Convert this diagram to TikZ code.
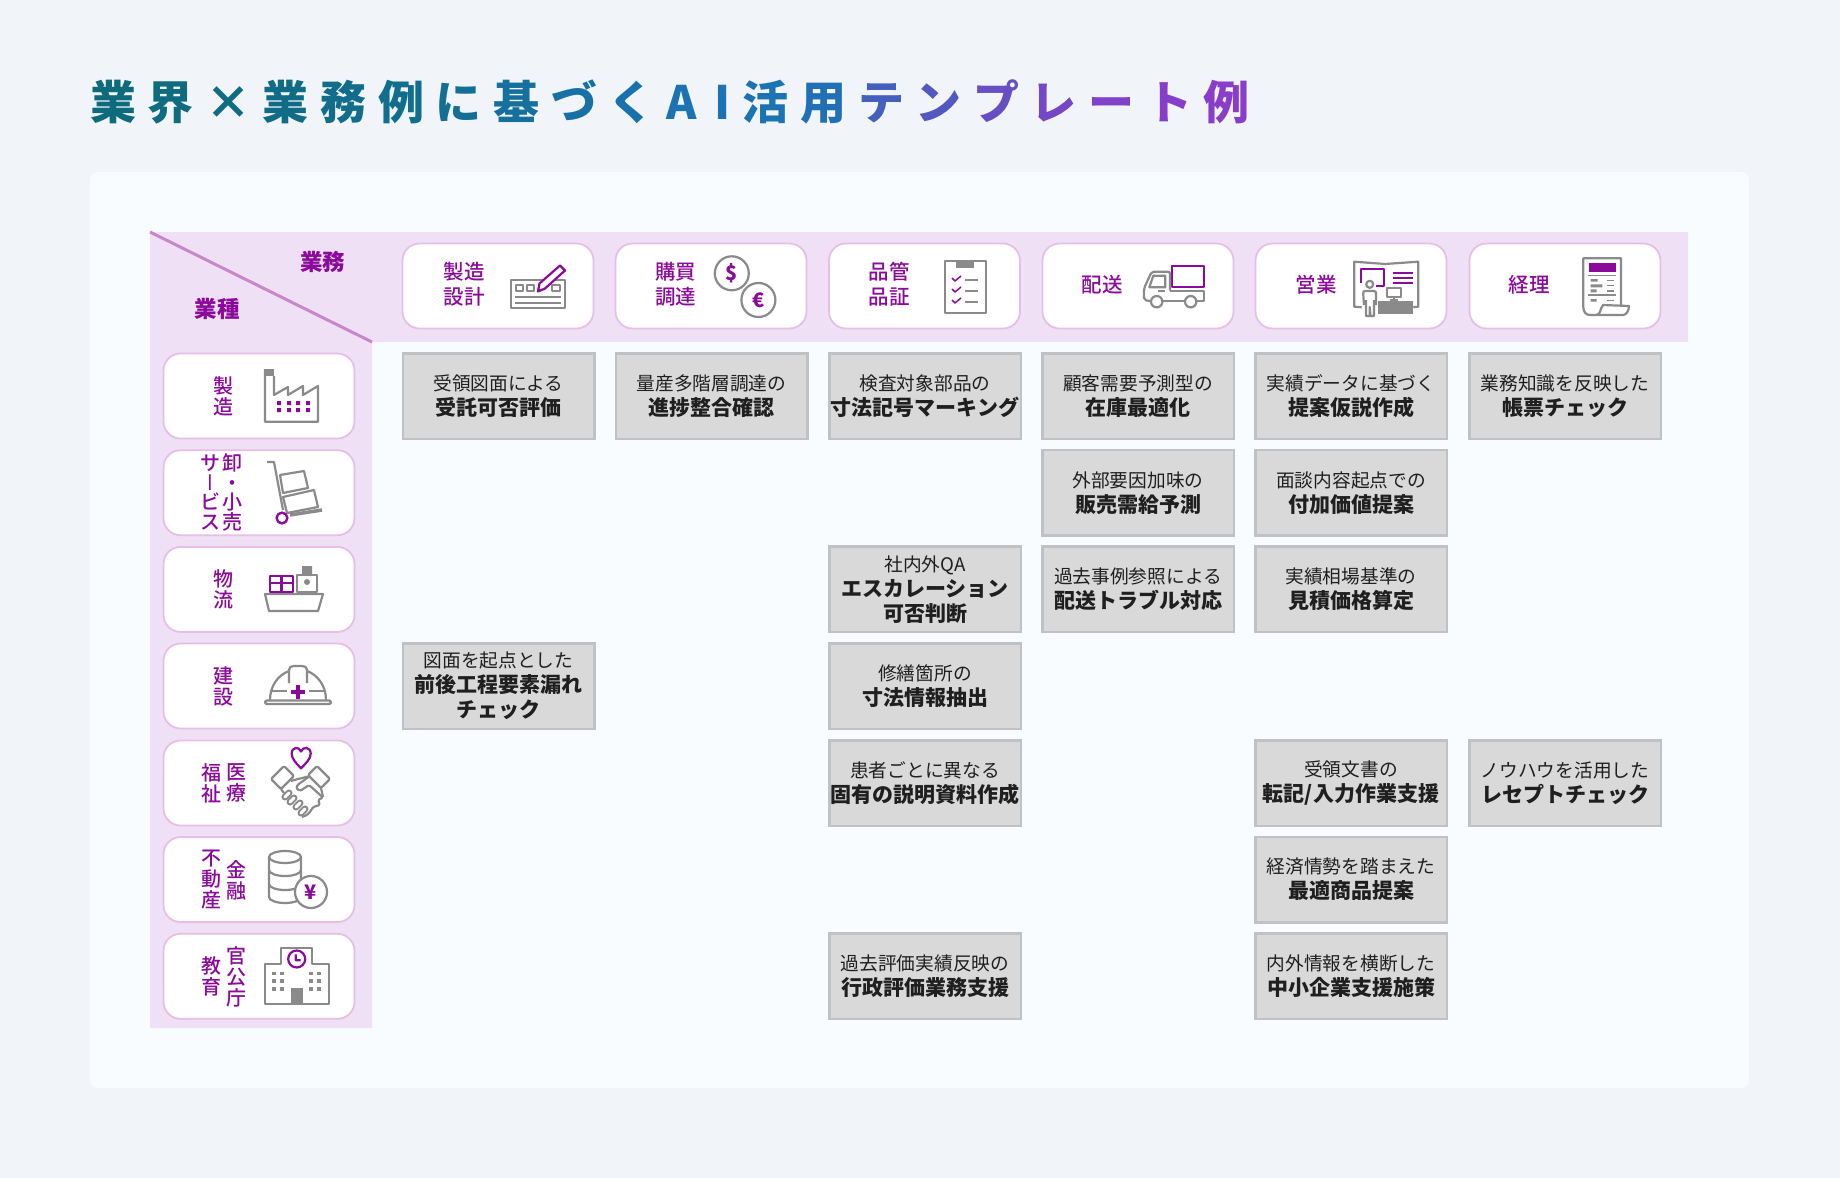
\documentclass[tikz,border=0pt]{standalone}
\usepackage{fontspec}
\setmainfont{Noto Sans CJK JP}
\newfontfamily\cjkvert[RawFeature=+vert]{Noto Sans CJK JP}
\newfontfamily\cjkmed{Noto Sans CJK JP Medium}
\definecolor{pagebg}{HTML}{F1F5FA}
\definecolor{panelbg}{HTML}{F8FCFF}
\definecolor{bandbg}{HTML}{EFE0F6}
\definecolor{diagline}{HTML}{C688C9}
\definecolor{boxedge}{HTML}{E6BEE6}
\definecolor{gyopurple}{HTML}{8B0A9B}
\definecolor{cellfill}{HTML}{D9D9D9}
\definecolor{celledge}{HTML}{BEC2C5}
\definecolor{icongray}{HTML}{8A8A8A}
\definecolor{tteal}{HTML}{0E6B7C}
\definecolor{tblue}{HTML}{1B73B4}
\definecolor{tpurple}{HTML}{8A3CCB}
\newcommand{\tga}[2]{\textcolor{tblue!#1!tteal}{#2}\kern11.6pt}
\newcommand{\tgb}[2]{\textcolor{tpurple!#1!tblue}{#2}\kern11.6pt}
\newcommand{\bt}[1]{{\bfseries\fontsize{21}{25}\selectfont #1}}
\tikzset{
  hdrbox/.style={draw=boxedge, fill=white, line width=1.8pt, rounded corners=17pt, minimum width=191pt, minimum height=85pt, inner sep=0pt, outer sep=0pt},
  sidebox/.style={hdrbox},
  hdrlabel/.style={text=gyopurple, inner sep=0pt, align=center, font=\cjkmed\fontsize{20.5}{25}\selectfont},
  sidelabel/.style={text=gyopurple, inner sep=0pt, align=center, font=\cjkmed\fontsize{20}{21}\selectfont},
  cornerlabel/.style={text=gyopurple, inner sep=0pt, font=\bfseries\fontsize{22.5}{25}\selectfont},
  cellbox/.style={draw=celledge, fill=cellfill, line width=2.5pt, minimum width=191.5pt, minimum height=85.5pt, inner sep=0pt, outer sep=0pt, align=center, text=black!88, font=\fontsize{18.7}{25}\selectfont},
  iconline/.style={draw=icongray, line width=2.2pt, line join=round},
  iconpurple/.style={draw=gyopurple, line width=2.2pt, line join=round},
}
\begin{document}
\begin{tikzpicture}[x=1pt,y=-1pt]
\useasboundingbox (0,0) rectangle (1840,1178);
\fill[pagebg] (0,0) rectangle (1840,1178);
\fill[panelbg, rounded corners=8pt] (90,172) rectangle (1749,1088);
\node[inner sep=0pt, anchor=west, font=\bfseries\fontsize{46}{50}\selectfont] (title) at (90,102) {\tga{0}{業}\tga{6}{界}\tga{12}{×}\tga{18}{業}\tga{24}{務}\tga{32}{例}\tga{45}{に}\tga{60}{基}\tga{72}{づ}\tga{85}{く}\tga{100}{A}\kern6pt\tga{100}{I}\kern1pt\tgb{0}{活}\tgb{5}{用}\tgb{35}{テ}\tgb{50}{ン}\tgb{68}{プ}\tgb{80}{レ}\tgb{90}{ー}\tgb{96}{ト}\tgb{100}{例}};
% band
\fill[bandbg] (150,232) -- (1688,232) -- (1688,342) -- (372,342) -- (372,1028) -- (150,1028) -- cycle;
\draw[diagline, line width=3pt] (150,232) -- (372,342);
\node[cornerlabel] (gyomu) at (322.5,261.5) {業務};
\node[cornerlabel] (gyoshu) at (217,309) {業種};
% header row
\node[hdrbox] (h1) at (498,286) {};
\node[hdrbox] (h2) at (711,286) {};
\node[hdrbox] (h3) at (924.5,286) {};
\node[hdrbox] (h4) at (1138,286) {};
\node[hdrbox] (h5) at (1351,286) {};
\node[hdrbox] (h6) at (1565,286) {};
\node[hdrlabel] (h1t) at (464,284.5) {製造\\設計};
\node[hdrlabel] (h2t) at (675.5,284.5) {購買\\調達};
\node[hdrlabel] (h3t) at (889,284.5) {品管\\品証};
\node[hdrlabel] (h4t) at (1102,284.5) {配送};
\node[hdrlabel] (h5t) at (1316,284.5) {営業};
\node[hdrlabel] (h6t) at (1529,284.5) {経理};
% side column
\node[sidebox] (s1) at (259,396) {};
\node[sidebox] (s2) at (259,492.7) {};
\node[sidebox] (s3) at (259,589.4) {};
\node[sidebox] (s4) at (259,686) {};
\node[sidebox] (s5) at (259,783) {};
\node[sidebox] (s6) at (259,879.6) {};
\node[sidebox] (s7) at (259,976.3) {};
\node[sidelabel] (s1t) at (223,396.5) {製\\造};
\node[sidelabel, font=\cjkmed\fontsize{20}{19.5}\selectfont] (s2a) at (232,492.5) {卸\\・\\小\\売};
\node[sidelabel, font=\cjkmed\fontsize{20}{19.5}\selectfont] (s2b) at (210.5,492.5) {サ\\{\cjkvert ー}\\ビ\\ス};
\node[sidelabel] (s3t) at (223,589.5) {物\\流};
\node[sidelabel] (s4t) at (223,686) {建\\設};
\node[sidelabel] (s5a) at (236,783) {医\\療};
\node[sidelabel] (s5b) at (211,783) {福\\祉};
\node[sidelabel] (s6a) at (236,880) {金\\融};
\node[sidelabel] (s6b) at (211,880) {不\\動\\産};
\node[sidelabel] (s7a) at (236,977) {官\\公\\庁};
\node[sidelabel] (s7b) at (211,976.5) {教\\育};
% cells
\node[cellbox] (c11) at (498.5,396) {受領図面による\\\bt{受託可否評価}};
\node[cellbox] (c12) at (711.5,396) {量産多階層調達の\\\bt{進捗整合確認}};
\node[cellbox] (c13) at (925,396) {検査対象部品の\\\bt{寸法記号マーキング}};
\node[cellbox] (c14) at (1138,396) {顧客需要予測型の\\\bt{在庫最適化}};
\node[cellbox] (c15) at (1351,396) {実績データに基づく\\\bt{提案仮説作成}};
\node[cellbox] (c16) at (1565,396) {業務知識を反映した\\\bt{帳票チェック}};
\node[cellbox] (c24) at (1138,492.7) {外部要因加味の\\\bt{販売需給予測}};
\node[cellbox] (c25) at (1351,492.7) {面談内容起点での\\\bt{付加価値提案}};
\node[cellbox] (c33) at (925,589.4) {社内外QA\\\bt{エスカレーション}\\\bt{可否判断}};
\node[cellbox] (c34) at (1138,589.4) {過去事例参照による\\\bt{配送トラブル対応}};
\node[cellbox] (c35) at (1351,589.4) {実績相場基準の\\\bt{見積価格算定}};
\node[cellbox] (c41) at (498.5,686) {図面を起点とした\\\bt{前後工程要素漏れ}\\\bt{チェック}};
\node[cellbox] (c43) at (925,686) {修繕箇所の\\\bt{寸法情報抽出}};
\node[cellbox] (c53) at (925,783) {患者ごとに異なる\\\bt{固有の説明資料作成}};
\node[cellbox] (c55) at (1351,783) {受領文書の\\\bt{転記/入力作業支援}};
\node[cellbox] (c56) at (1565,783) {ノウハウを活用した\\\bt{レセプトチェック}};
\node[cellbox] (c65) at (1351,879.6) {経済情勢を踏まえた\\\bt{最適商品提案}};
\node[cellbox] (c73) at (925,976.3) {過去評価実績反映の\\\bt{行政評価業務支援}};
\node[cellbox] (c75) at (1351,976.3) {内外情報を横断した\\\bt{中小企業支援施策}};
% icon: design
\draw[iconline] (511,280) rectangle (565,308);
\draw[iconline, line width=1.4pt] (516,285) rectangle (523,291) (527,285) rectangle (534,291) (552,285) rectangle (560,291);
\draw[iconline, line width=1.4pt] (515,297) -- (561,297) (515,303) -- (561,303);
\draw[iconpurple, fill=white] (538,291.5) -- (539.5,283.5) -- (560,265.5) -- (565,270.5) -- (545,288.5) -- cycle;
% icon: coins
\draw[iconline] (731.8,273.3) circle (17pt);
\draw[iconline, fill=white] (758.4,300) circle (17pt);
\node[text=gyopurple, inner sep=0pt, font=\bfseries\fontsize{20}{22}\selectfont] (dollar) at (731.8,273.3) {\$};
\node[text=gyopurple, inner sep=0pt, font=\bfseries\fontsize{20}{22}\selectfont] (euro) at (758.4,300) {€};
% icon: clipboard
\draw[iconline] (945,260.7) rectangle (985.7,313.3);
\fill[icongray] (956,260.7) rectangle (973.5,268.3);
\draw[iconpurple, line width=1.5pt] (952,278) -- (955,281) -- (961,276) (952,289) -- (955,292) -- (961,287) (952,300) -- (955,303) -- (961,298);
\draw[iconline, line width=1.5pt] (965.3,280) -- (977.6,280) (965.3,291) -- (977.6,291) (965.3,302) -- (977.6,302);
% icon: truck
\draw[iconpurple] (1172.3,266) rectangle (1204,286.7);
\draw[iconline, rounded corners=2pt] (1170,290.7) -- (1170,271.7) -- (1151.7,271.7) -- (1144,288.3) -- (1144,300) -- (1150,301);
\draw[iconline] (1153.3,275.7) -- (1165.3,275.7) -- (1165.3,287.3) -- (1149.3,287.3) -- cycle;
\draw[iconline] (1170,290.7) -- (1204,290.7) -- (1204,301.3) -- (1196,301.3) (1163,301) -- (1185,301) (1158.3,290.7) -- (1165,290.7);
\draw[iconline] (1156.7,301.7) circle (5.7pt) (1190.7,301.7) circle (5.7pt);
% icon: sales
\draw[iconline] (1361.7,307.3) -- (1354.3,306.7) -- (1354.3,261.7) -- (1385,264) -- (1418.3,261.7) -- (1418.3,306.7) -- (1413.3,307.3);
\draw[iconpurple] (1361,283.3) -- (1361,269.3) -- (1383.7,269.3) -- (1383.7,286) -- (1375.7,286);
\draw[iconpurple] (1392.7,272.7) -- (1413.3,272.7) (1392.7,278) -- (1413.3,278) (1392.7,283.3) -- (1413.3,283.3);
\draw[iconline] (1369.7,284.3) circle (3.5pt);
\draw[iconline, rounded corners=2pt] (1364,305) -- (1363,291) -- (1376,291) -- (1376,305);
\draw[iconline] (1366,300) -- (1366,316) -- (1369.7,316) -- (1369.7,307) -- (1370.5,316) -- (1374,316) -- (1374,300);
\draw[iconline] (1386.7,287.7) rectangle (1400.7,296.7) (1393.7,296.7) -- (1393.7,300) (1389.7,300) -- (1397.7,300);
\fill[icongray] (1378.3,301) rectangle (1412.7,314);
% icon: invoice
\draw[iconline] (1621,305) -- (1621,258.3) -- (1583.3,258.3) -- (1583.3,307) .. controls (1583.3,312) and (1586,315) .. (1590,315) -- (1623,315) .. controls (1626,315) and (1629,311) .. (1629,306) -- (1603,305) .. controls (1600,308) and (1601,315) .. (1596,315);
\fill[gyopurple] (1588.7,263.3) rectangle (1615.7,271.7);
\draw[iconline, line width=1.4pt] (1588.3,275.7) -- (1615.7,275.7) (1588.3,295) -- (1615.7,295) (1607.3,280.3) -- (1614,280.3) (1607.3,285.5) -- (1614,285.5) (1607.3,291) -- (1614,291) (1607.3,300.7) -- (1614,300.7);
\fill[icongray] (1590.7,279) rectangle (1597.7,281.7) (1590.7,284.3) rectangle (1602.3,287.3) (1590.7,289.3) rectangle (1596.7,292.3) (1590.7,299) rectangle (1596.7,301.7);
% icon: factory
\draw[iconline] (274,376) -- (274,395) -- (288,387) -- (288,395) -- (303,386) -- (303,395) -- (318,386) -- (318,421.7) -- (265,421.7) -- (265,369);
\fill[icongray] (265,369) rectangle (274,376);
\foreach \dx in {279,289,298,308} {
  \fill[gyopurple] (\dx-2,401) rectangle (\dx+2,405) (\dx-2,408) rectangle (\dx+2,412);
}
% icon: cart
\draw[iconline] (267,462) -- (274,462) -- (283,510);
\draw[iconline] (280,475) -- (304,471) -- (308,488) -- (283,493) -- cycle;
\draw[iconline] (283,497) -- (314,490) -- (318,507) -- (287,513) -- cycle;
\draw[icongray, line width=3.5pt] (290,515) -- (322,510);
\draw[iconpurple, line width=2.4pt] (282,518) circle (5.4pt);
% icon: ship
\draw[iconline] (265,594) -- (323,594) -- (318,611) -- (269,611) -- cycle;
\draw[iconpurple] (270,576) rectangle (293,592) (281.5,576) -- (281.5,592) (270,583) -- (293,583);
\draw[iconline] (297,575) rectangle (317,592);
\fill[icongray] (302,566) rectangle (312,575) (307,582) circle (3pt);
% icon: helmet
\draw[iconline] (270,700) .. controls (270,686) and (278,675) .. (289,671);
\draw[iconline] (289,683) -- (289,670) .. controls (289,667) and (291,666) .. (294,666) -- (302,666) .. controls (305,666) and (307,667) .. (307,670) -- (307,683);
\draw[iconline] (307,671) .. controls (318,675) and (326,686) .. (326,700);
\draw[iconline, rounded corners=1.5pt] (265,700.5) rectangle (331,704);
\draw[iconline] (271,691) -- (287,691) (309,691) -- (325,691);
\draw[gyopurple, line width=4pt] (298,685) -- (298,699) (291,692) -- (305,692);
% icon: handshake
\draw[iconpurple] (301,768.3) .. controls (296,763) and (291.7,759) .. (291.7,753.5) .. controls (291.7,747) and (299,746) .. (301,751.5) .. controls (303,746) and (310.7,747) .. (310.7,753.5) .. controls (310.7,759) and (306,763) .. (301,768.3) -- cycle;
\foreach \fx/\fy in {287/795,292/800,298/805,303/811} {
  \draw[icongray, line width=7pt, line cap=round] (\fx-2,\fy+2) -- (\fx+2,\fy-2);
  \draw[white, line width=3pt, line cap=round] (\fx-2,\fy+2) -- (\fx+2,\fy-2);
}
\draw[iconline, rounded corners=1.5pt] (271,779) -- (284,766) -- (294,776) -- (281,789) -- cycle;
\draw[iconline, rounded corners=1.5pt] (330,779) -- (317,766) -- (308,775) -- (321,788) -- cycle;
\draw[iconline] (291,781) -- (298,779) -- (310,776) (281,789) -- (284,793) (321,788) -- (323,797);
\draw[iconline, rounded corners=1.5pt] (310,776) -- (298,784.5) -- (296,788) -- (300,791) -- (309,785) -- (323,797.5) -- (318,800) -- (320,805) -- (313,807) -- (310,812) -- (307,815) -- (302,817);
% icon: stack
\draw[iconline] (285,857) ellipse (16pt and 6pt);
\draw[iconline] (269,857) -- (269,897) arc[start angle=180, end angle=360, x radius=16pt, y radius=6pt] -- (301,857);
\draw[iconline] (269,870) arc[start angle=180, end angle=360, x radius=16pt, y radius=6pt];
\draw[iconline] (269,884) arc[start angle=180, end angle=360, x radius=16pt, y radius=6pt];
\draw[iconline, fill=white] (311,892) circle (16pt);
\node[text=gyopurple, inner sep=0pt, font=\bfseries\fontsize{20}{22}\selectfont] (yen) at (311,892) {¥};
% icon: building
\draw[iconline] (281,964.3) -- (281,947.7) -- (312.3,947.7) -- (312.3,964.3) -- (329,964.3) -- (329,1004) -- (265,1004) -- (265,964.3) -- cycle;
\draw[iconpurple, line width=2.2pt] (296.7,959) circle (8.5pt) (295.7,954.3) -- (295.7,960.3) -- (300.7,960.3);
\fill[icongray] (291,988.3) rectangle (303.3,1003.3);
\foreach \wx in {274.3,282.3,311,319} {
  \foreach \wy in {973.3,980.7,989} {
    \fill[icongray] (\wx-1.9,\wy-1.8) rectangle (\wx+1.9,\wy+1.8);
  }
}
\end{tikzpicture}
\end{document}
